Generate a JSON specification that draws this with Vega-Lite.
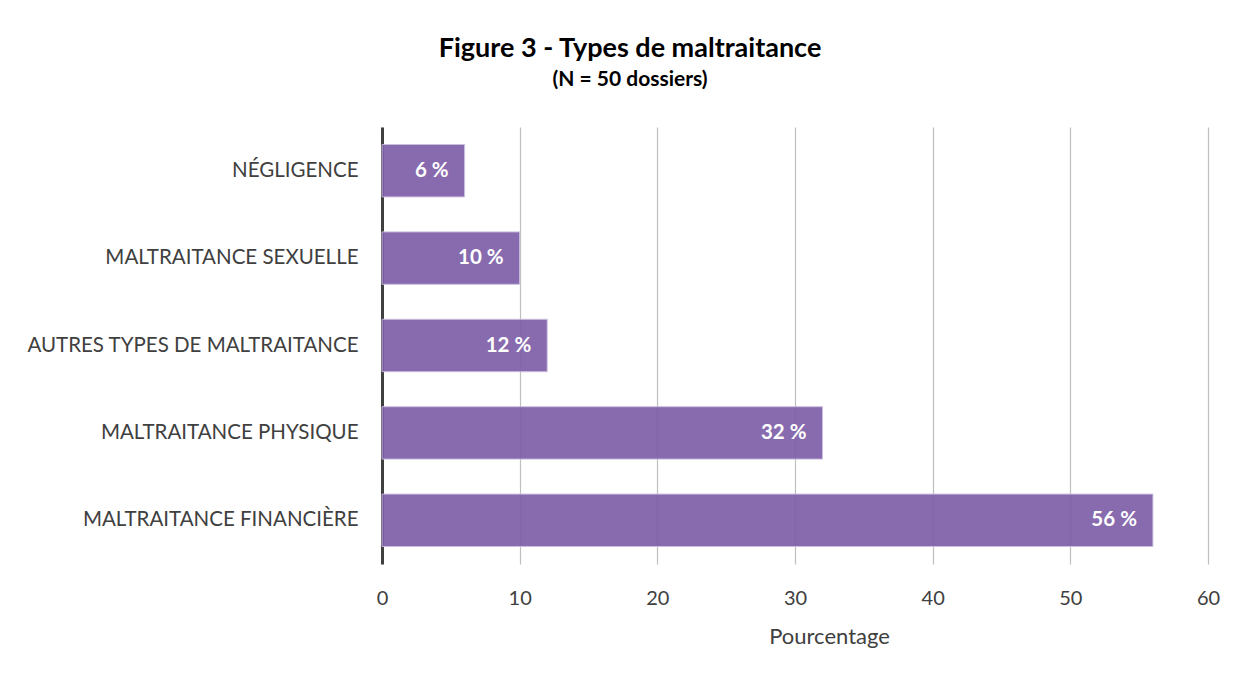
{
  "$schema": "https://vega.github.io/schema/vega-lite/v6.json",
  "width": 826,
  "height": 437,
  "autosize": "none",
  "padding": {"left": 382, "top": 127, "right": 41, "bottom": 111},
  "background": "white",
  "title": {
    "text": "Figure 3 - Types de maltraitance",
    "subtitle": "(N = 50 dossiers)",
    "anchor": "middle",
    "frame": "group",
    "dx": -165,
    "offset": 36,
    "font": "Lato",
    "fontSize": 27,
    "fontWeight": "bold",
    "color": "#000000",
    "subtitleFont": "Lato",
    "subtitleFontSize": 21,
    "subtitleFontWeight": "bold",
    "subtitleColor": "#000000",
    "subtitlePadding": 6
  },
  "data": {
    "values": [
      {"type": "NÉGLIGENCE", "pct": 6, "label": "6 %"},
      {"type": "MALTRAITANCE SEXUELLE", "pct": 10, "label": "10 %"},
      {"type": "AUTRES TYPES DE MALTRAITANCE", "pct": 12, "label": "12 %"},
      {"type": "MALTRAITANCE PHYSIQUE", "pct": 32, "label": "32 %"},
      {"type": "MALTRAITANCE FINANCIÈRE", "pct": 56, "label": "56 %"}
    ]
  },
  "encoding": {
    "y": {
      "field": "type",
      "type": "nominal",
      "sort": {"field": "pct", "order": "ascending"},
      "scale": {"paddingInner": 0.4, "paddingOuter": 0.2},
      "axis": {
        "title": null,
        "labelFont": "Lato",
        "labelFontSize": 20.5,
        "labelColor": "#404040",
        "labelPadding": 24,
        "labelLimit": 400,
        "ticks": false,
        "domainColor": "#404040",
        "domainWidth": 3,
        "grid": false
      }
    },
    "x": {
      "field": "pct",
      "type": "quantitative",
      "scale": {"domain": [0, 60]},
      "axis": {
        "title": "Pourcentage",
        "titleFont": "Lato",
        "titleFontSize": 22,
        "titleFontWeight": "normal",
        "titleColor": "#404040",
        "titlePadding": 18,
        "titleX": 447,
        "titleAlign": "center",
        "labelFont": "Lato",
        "labelFontSize": 20,
        "labelColor": "#404040",
        "labelPadding": 24,
        "labelFlush": false,
        "labelOverlap": false,
        "values": [0, 10, 20, 30, 40, 50, 60],
        "ticks": false,
        "domain": false,
        "grid": true,
        "gridColor": "#BFBFBF",
        "gridWidth": 1.2
      }
    }
  },
  "layer": [
    {
      "mark": {"type": "bar", "color": "#7F60A8", "opacity": 0.93, "stroke": "#C9BCDD", "strokeWidth": 1}
    },
    {
      "mark": {"type": "text", "align": "right", "baseline": "middle", "dx": -16, "font": "Lato", "fontSize": 20.5, "fontWeight": "bold", "color": "white"},
      "encoding": {"text": {"field": "label"}}
    }
  ],
  "config": {"view": {"stroke": null}}
}
